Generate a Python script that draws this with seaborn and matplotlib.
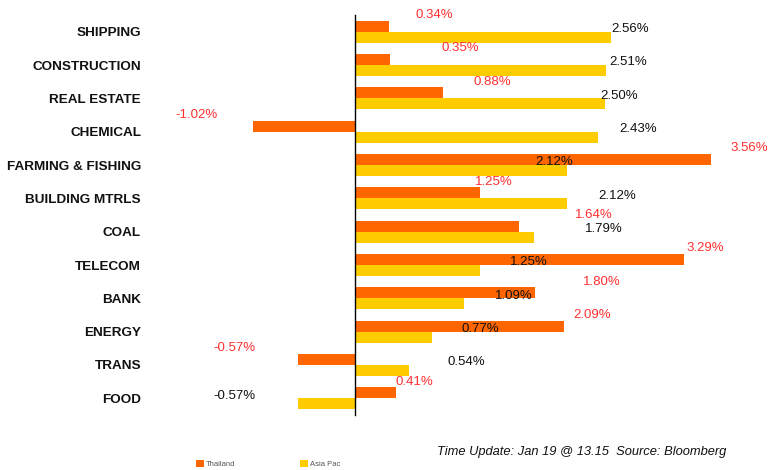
import matplotlib
matplotlib.use("Agg")
import matplotlib.pyplot as plt
import pandas as pd
import seaborn as sns

sectors = ["SHIPPING", "CONSTRUCTION", "REAL ESTATE", "CHEMICAL", "FARMING & FISHING",
           "BUILDING MTRLS", "COAL", "TELECOM", "BANK", "ENERGY", "TRANS", "FOOD"]
thailand = [0.34, 0.35, 0.88, -1.02, 3.56, 1.25, 1.64, 3.29, 1.80, 2.09, -0.57, 0.41]
asia_pac = [2.56, 2.51, 2.50, 2.43, 2.12, 2.12, 1.79, 1.25, 1.09, 0.77, 0.54, -0.57]
series = ["Thailand", "Asia Pac"]

# hand placed data labels (offset from bar end, in % units), like the original
th_dx = [0.27, 0.51, 0.31, -0.35, 0.19, -0.05, 0.56, 0.02, 0.48, 0.09, -0.43, -0.01]
ap_dx = [0.0, 0.03, -0.05, 0.21, -0.32, 0.31, 0.51, 0.30, 0.31, 0.30, 0.39, -0.42]

df = pd.DataFrame({
    "sector": sectors * 2,
    "change": thailand + asia_pac,
    "region": [series[0]] * len(sectors) + [series[1]] * len(sectors),
})

sns.set_style("white")
plt.rcParams["font.family"] = ["Liberation Sans", "DejaVu Sans"]

fig = plt.figure(figsize=(7.69, 4.70), dpi=100)
ax = fig.add_axes([155 / 769, 55 / 470, 600 / 769, 400 / 470])

sns.barplot(data=df, y="sector", x="change", hue="region", hue_order=series,
            order=sectors, palette=["#FF6600", "#FFCC00"], saturation=1,
            width=0.66, orient="h", linewidth=0, ax=ax)

handles, labels = ax.get_legend_handles_labels()
ax.get_legend().remove()

ax.set_xlim(-2, 4)
ax.set_ylim(11.5, -0.5)
ax.set_xlabel("")
ax.set_ylabel("")
ax.set_xticks([])
for s in ["top", "right", "bottom"]:
    ax.spines[s].set_visible(False)
ax.spines["left"].set_position(("data", 0))
ax.spines["left"].set_linewidth(1)
ax.spines["left"].set_color("black")

ax.tick_params(axis="y", which="major", length=0, pad=154)
ax.set_yticks([1.5, 6.5, 11.5], minor=True)
ax.tick_params(axis="y", which="minor", length=3, width=1, direction="out")
for lab in ax.get_yticklabels():
    lab.set_fontweight("bold")
    lab.set_fontsize(9.7)
    lab.set_color("#111111")

for i in range(len(sectors)):
    v = thailand[i]
    ax.text(v + th_dx[i], i - 0.5, f"{v:.2f}%", color="#FF3030", fontsize=9.5,
            ha="left" if v >= 0 else "right", va="center")
    v = asia_pac[i]
    ax.text(v + ap_dx[i], i - 0.08, f"{v:.2f}%", color="#111111", fontsize=9.5,
            ha="left" if v >= 0 else "right", va="center")

fig.legend(handles, labels, loc="center left", bbox_to_anchor=(189 / 769, 6 / 470),
           ncol=2, frameon=False, fontsize=5.5, handlelength=1.0, handleheight=1.0,
           handletextpad=0.3, columnspacing=8.5, labelcolor="#555555")

fig.text(437 / 769, 1 - 452 / 470, "Time Update: Jan 19 @ 13.15  Source: Bloomberg",
         style="italic", fontsize=9.25, va="center", ha="left", color="#111111")

fig.savefig("out.png", dpi=100)
